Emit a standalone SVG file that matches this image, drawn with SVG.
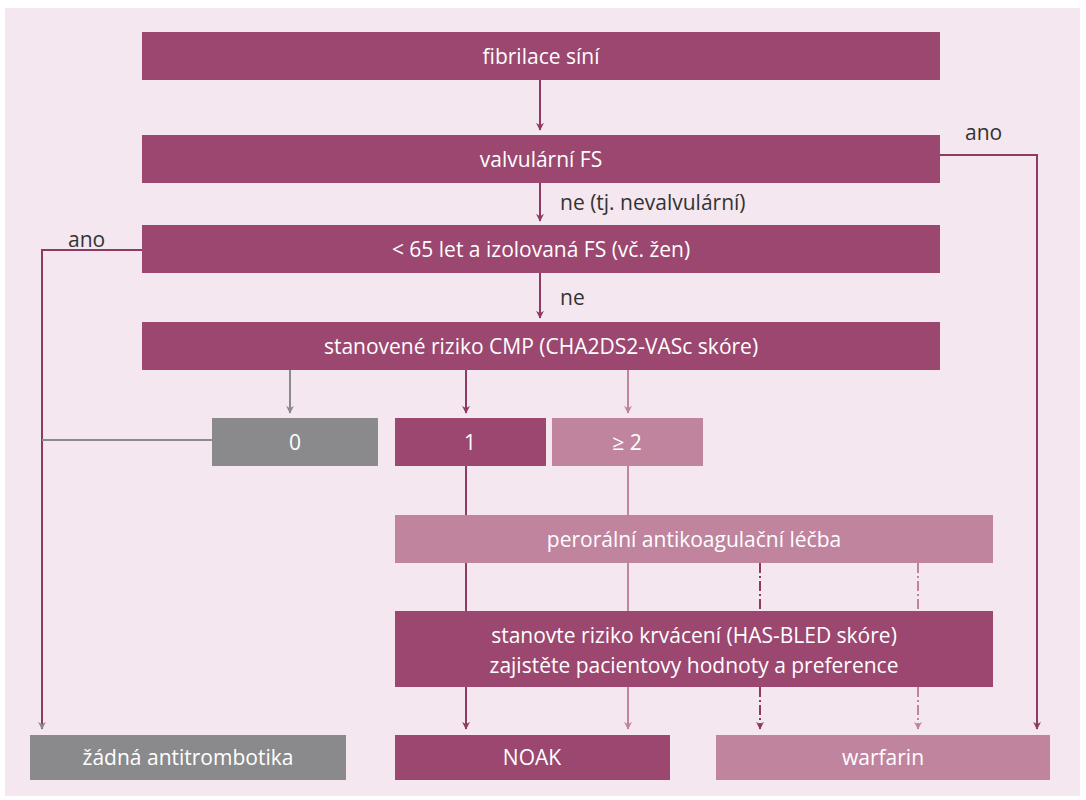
<svg xmlns="http://www.w3.org/2000/svg" width="1086" height="800" viewBox="0 0 1086 800">
<style>
.d{fill:#9b476f}.l{fill:#c0849f}.g{fill:#8a8a8c}
text{font-family:"Open Sans","Liberation Sans",sans-serif;font-size:21px;text-anchor:middle}
.w{fill:#fff}.k{fill:#333;text-anchor:start}
.cd{stroke:#8e3a62;stroke-width:2;fill:none}.cl{stroke:#c0849f;stroke-width:2;fill:none}.cg{stroke:#8a8a8c;stroke-width:2;fill:none}
</style>
<defs>
<marker id="ad" viewBox="0 0 10 10" refX="9" refY="5" markerWidth="8" markerHeight="10" orient="auto" markerUnits="userSpaceOnUse"><path d="M0,0L10,5L0,10L3,5Z" fill="#8e3a62"/></marker>
<marker id="al" viewBox="0 0 10 10" refX="9" refY="5" markerWidth="8" markerHeight="10" orient="auto" markerUnits="userSpaceOnUse"><path d="M0,0L10,5L0,10L3,5Z" fill="#c0849f"/></marker>
<marker id="ag" viewBox="0 0 10 10" refX="9" refY="5" markerWidth="8" markerHeight="10" orient="auto" markerUnits="userSpaceOnUse"><path d="M0,0L10,5L0,10L3,5Z" fill="#8a8a8c"/></marker>
</defs>
<rect width="1086" height="800" fill="#fff"/>
<rect x="5" y="8" width="1075" height="788" fill="#f4e7ef"/>
<g id="connectors">
<path class="cd" d="M540,80V130" marker-end="url(#ad)"/>
<path class="cd" d="M540,183V221" marker-end="url(#ad)"/>
<path class="cd" d="M540,273V318" marker-end="url(#ad)"/>
<path class="cd" d="M940,155H1037V729" marker-end="url(#ad)"/>
<path class="cd" d="M142,250H42V729" marker-end="url(#ag)"/>
<path class="cg" d="M42,440H212"/>
<path class="cg" d="M290,370V413" marker-end="url(#ag)"/>
<path class="cd" d="M466,370V413" marker-end="url(#ad)"/>
<path class="cl" d="M628,370V413" marker-end="url(#al)"/>
<path class="cd" d="M466,466V515"/>
<path class="cl" d="M628,466V515"/>
<path class="cd" d="M466,563V611"/>
<path class="cl" d="M628,563V611"/>
<path class="cd" d="M760,563V611" stroke-dasharray="10,3,2,3"/>
<path class="cl" d="M918,563V611" stroke-dasharray="10,3,2,3"/>
<path class="cd" d="M466,687V729" marker-end="url(#ad)"/>
<path class="cl" d="M628,687V729" marker-end="url(#al)"/>
<path class="cd" d="M760,687V729" stroke-dasharray="10,3,2,3" marker-end="url(#ad)"/>
<path class="cl" d="M918,687V729" stroke-dasharray="10,3,2,3" marker-end="url(#al)"/>
<text class="k" x="560" y="210">ne (tj. nevalvulární)</text>
<text class="k" x="560" y="305">ne</text>
<text class="k" x="965" y="140">ano</text>
<text class="k" x="68" y="247">ano</text>
</g>
<g id="n1"><rect class="d" x="142" y="32" width="798" height="48"/><text class="w" x="541" y="64">fibrilace síní</text></g>
<g id="n2"><rect class="d" x="142" y="135" width="798" height="48"/><text class="w" x="541" y="167">valvulární FS</text></g>
<g id="n3"><rect class="d" x="142" y="225" width="798" height="48"/><text class="w" x="541" y="257">&lt; 65 let a izolovaná FS (vč. žen)</text></g>
<g id="n4"><rect class="d" x="142" y="322" width="798" height="48"/><text class="w" x="541" y="354">stanovené riziko CMP (CHA2DS2-VASc skóre)</text></g>
<g id="n5"><rect class="g" x="212" y="418" width="166" height="48"/><text class="w" x="295" y="450">0</text></g>
<g id="n6"><rect class="d" x="395" y="418" width="151" height="48"/><text class="w" x="470" y="450">1</text></g>
<g id="n7"><rect class="l" x="552" y="418" width="151" height="48"/><text class="w" x="627" y="450">≥ 2</text></g>
<g id="n8"><rect class="l" x="395" y="515" width="598" height="48"/><text class="w" x="694" y="547">perorální antikoagulační léčba</text></g>
<g id="n9"><rect class="d" x="395" y="611" width="598" height="76"/><text class="w" x="694" y="643">stanovte riziko krvácení (HAS-BLED skóre)</text><text class="w" x="694" y="673">zajistěte pacientovy hodnoty a preference</text></g>
<g id="n10"><rect class="g" x="30" y="735" width="316" height="45"/><text class="w" x="188" y="765">žádná antitrombotika</text></g>
<g id="n11"><rect class="d" x="395" y="735" width="275" height="45"/><text class="w" x="532" y="765">NOAK</text></g>
<g id="n12"><rect class="l" x="716" y="735" width="334" height="45"/><text class="w" x="883" y="765">warfarin</text></g>
</svg>
